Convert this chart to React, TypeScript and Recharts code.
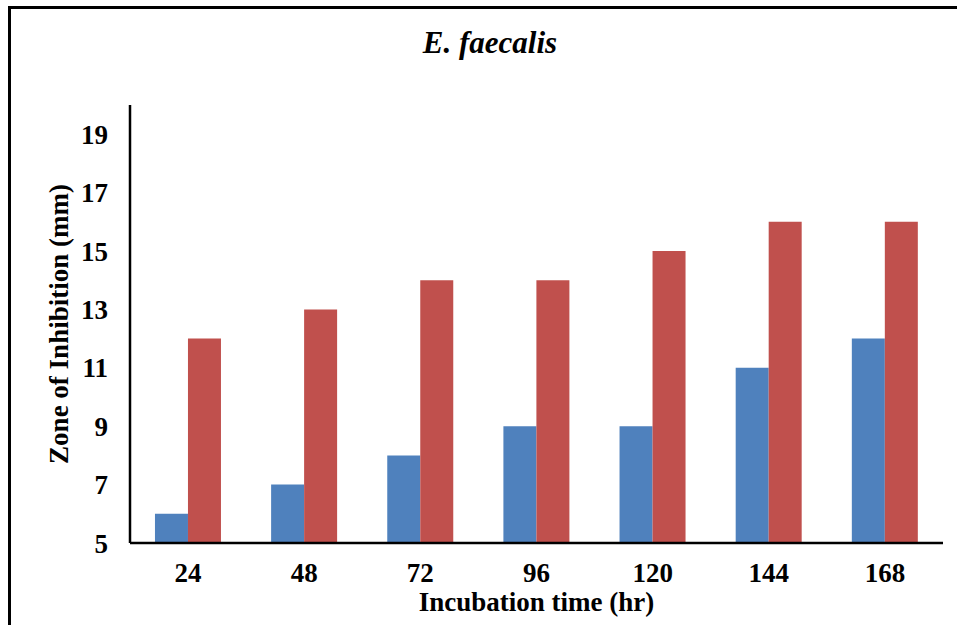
import { BarChart, Bar, XAxis, YAxis, Label } from 'recharts';

const hours = ['24', '48', '72', '96', '120', '144', '168'];
const seriesA = [6, 7, 8, 9, 9, 11, 12];
const seriesB = [12, 13, 14, 14, 15, 16, 16];
const yTicks = [5, 7, 9, 11, 13, 15, 17, 19];

const data = hours.map((h, i) => ({ hour: h, a: seriesA[i], b: seriesB[i] }));

const font = '"Liberation Serif", "Times New Roman", serif';
const tickStyle = { fontSize: 27, fontWeight: 700, fill: '#000', fontFamily: font };
const labelStyle = { fontSize: 27, fontWeight: 700, fill: '#000', fontFamily: font };

export default function App() {
  return (
    <div style={{ position: 'fixed', left: 0, top: 0, width: 957, height: 625, background: '#fff', overflow: 'hidden' }}>
      <div style={{ position: 'absolute', left: 8, top: 6, width: 1100, height: 800, borderLeft: '3px solid #000', borderTop: '3px solid #000' }} />
      <div style={{ position: 'absolute', left: 0, top: 25, width: 980, textAlign: 'center', fontFamily: font, fontWeight: 700, fontStyle: 'italic', fontSize: 31 }}>
        E. faecalis
      </div>
      <div style={{ position: 'absolute', left: 0, top: 0 }}>
        <BarChart width={957} height={625} data={data} margin={{ top: 105, right: 14, bottom: 52, left: 40 }} barCategoryGap="21.5%" barGap={0}>
          <XAxis dataKey="hour" axisLine={{ stroke: '#000', strokeWidth: 2.5 }} tickLine={false} tickSize={0} tickMargin={20} tick={tickStyle} height={30}>
            <Label value="Incubation time (hr)" position="bottom" offset={19} style={labelStyle} />
          </XAxis>
          <YAxis domain={[5, 20]} ticks={yTicks} type="number" allowDataOverflow axisLine={{ stroke: '#000', strokeWidth: 2.5 }} tickLine={false} tickSize={0} tickMargin={22} tick={tickStyle} width={90}>
            <Label value="Zone of Inhibition (mm)" angle={-90} position="insideLeft" offset={18} style={{ ...labelStyle, textAnchor: 'middle' }} />
          </YAxis>
          <Bar dataKey="a" fill="#4F81BD" isAnimationActive={false} />
          <Bar dataKey="b" fill="#C0504D" isAnimationActive={false} />
        </BarChart>
      </div>
    </div>
  );
}
